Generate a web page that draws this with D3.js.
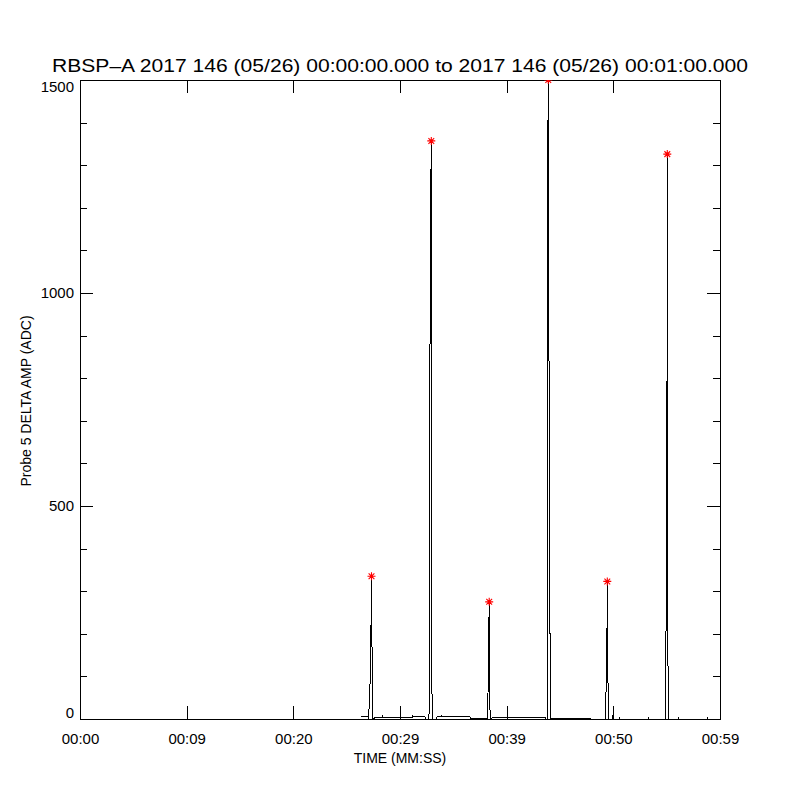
<!DOCTYPE html>
<html>
<head>
<meta charset="utf-8">
<script src="https://cdn.jsdelivr.net/npm/d3@7"></script>
<style>
  html, body { margin: 0; padding: 0; background: #fff; }
  svg { display: block; }
  text { font-family: "Liberation Sans", "DejaVu Sans", sans-serif; fill: #000; }
</style>
</head>
<body>
<svg id="chart" width="800" height="800"></svg>
<script>
// ---- data ----
const titleText = "RBSP\u2013A 2017 146 (05/26) 00:00:00.000 to 2017 146 (05/26) 00:01:00.000";
const xLabel = "TIME (MM:SS)";
const yLabel = "Probe 5 DELTA AMP (ADC)";

const xTickValues = [0, 10, 20, 30, 40, 50, 60];
const xTickLabels = ["00:00", "00:09", "00:20", "00:29", "00:39", "00:50", "00:59"];
const yMajorTicks = [0, 500, 1000, 1500];
const yMinorTicks = [100, 200, 300, 400, 600, 700, 800, 900, 1100, 1200, 1300, 1400];

// trace: seconds since 00:00:00, amplitude in ADC
const traceTime = [
  26.344, 27.028, 27.075, 27.113, 27.216, 27.281, 27.328, 27.366, 27.394, 27.413,
  27.497, 27.591, 27.656, 28.341, 28.378, 28.434, 30.000, 30.028, 30.066, 31.153,
  31.191, 31.247, 32.344, 32.438, 32.719, 32.766, 32.841, 32.934, 32.972, 33.000,
  33.038, 33.441, 33.469, 33.891, 33.909, 33.938, 35.625, 36.563, 36.609, 38.203,
  38.250, 38.297, 38.363, 38.400, 38.438, 38.484, 38.719, 43.594, 43.688, 43.809,
  43.838, 43.880, 43.950, 43.988, 44.063, 44.091, 44.691, 46.097, 46.125, 46.875,
  47.813, 47.859, 49.247, 49.266, 49.341, 49.406, 49.434, 49.463, 49.491, 49.556,
  49.594, 49.959, 49.997, 50.034, 50.531, 50.559, 50.588, 53.250, 53.278, 53.306,
  54.891, 54.909, 54.984, 55.031, 55.059, 55.088, 55.106, 55.134, 56.063, 56.091,
  56.119, 58.781, 58.809, 58.838, 59.813
];
const traceValue = [
  7, 7, 0, 47, 96, 214, 335, 214, 96, 0,
  2, 0, 4, 4, 7, 4, 4, 31, 4, 4,
  7, 5, 5, 0, 0, 443, 1122, 1357, 1122, 59,
  0, 0, 5, 5, 7, 5, 5, 5, 2, 2,
  60, 150, 275, 150, 20, 0, 4, 4, 0, 0,
  228, 1500, 1498, 200, 200, 0, 2, 2, 0, 2,
  2, 0, 0, 7, 95, 200, 323, 200, 95, 37,
  0, 0, 30, 0, 0, 2, 0, 0, 2, 0,
  0, 76, 400, 737, 1326, 737, 400, 0, 0, 2,
  0, 0, 2, 0, 0
];

// peak markers (red asterisks)
const peakTime = [27.328, 32.934, 38.363, 43.900, 49.434, 55.059];
const peakValue = [335, 1357, 275, 1500, 323, 1326];

// ---- layout ----
const svg = d3.select("#chart");
const plot = { left: 80, right: 720, top: 80, bottom: 719 };

const x = d3.scaleLinear().domain([0, 60]).range([plot.left, plot.right]);
const y = d3.scaleLinear().domain([0, 1500]).range([plot.bottom, plot.top]);

svg.append("defs").append("clipPath").attr("id", "clip")
  .append("rect")
  .attr("x", plot.left).attr("y", plot.top)
  .attr("width", plot.right - plot.left).attr("height", plot.bottom - plot.top);

// ---- axes ----
const axisStyle = g => {
  g.select(".domain").remove();
  g.selectAll("line").attr("stroke", "#000").attr("shape-rendering", "crispEdges");
  g.selectAll("text").style("font-size", "15px").attr("fill", "#000");
};

// bottom
svg.append("g").attr("transform", `translate(0,${plot.bottom})`)
  .call(d3.axisBottom(x).tickValues(xTickValues)
    .tickFormat((d, i) => xTickLabels[i]).tickSizeInner(-13).tickSizeOuter(0).tickPadding(14))
  .call(axisStyle);
// top
svg.append("g").attr("transform", `translate(0,${plot.top})`)
  .call(d3.axisTop(x).tickValues(xTickValues).tickFormat("").tickSizeInner(-13).tickSizeOuter(0))
  .call(axisStyle);

// left major
const leftMajor = svg.append("g").attr("transform", `translate(${plot.left},0)`)
  .call(d3.axisLeft(y).tickValues(yMajorTicks).tickFormat(d3.format("d"))
    .tickSizeInner(-13).tickSizeOuter(0).tickPadding(6))
  .call(axisStyle);
leftMajor.selectAll("text").attr("dy", d => d === 0 ? "-0.1em" : (d === 1500 ? "0.78em" : "0.32em"));
// left minor
svg.append("g").attr("transform", `translate(${plot.left},0)`)
  .call(d3.axisLeft(y).tickValues(yMinorTicks).tickFormat("").tickSizeInner(-7).tickSizeOuter(0))
  .call(axisStyle);
// right major
svg.append("g").attr("transform", `translate(${plot.right},0)`)
  .call(d3.axisRight(y).tickValues(yMajorTicks).tickFormat("").tickSizeInner(-13).tickSizeOuter(0))
  .call(axisStyle);
// right minor
svg.append("g").attr("transform", `translate(${plot.right},0)`)
  .call(d3.axisRight(y).tickValues(yMinorTicks).tickFormat("").tickSizeInner(-7).tickSizeOuter(0))
  .call(axisStyle);

// frame
svg.append("rect")
  .attr("x", x(0)).attr("y", y(1500))
  .attr("width", x(60) - x(0)).attr("height", y(0) - y(1500))
  .attr("fill", "none").attr("stroke", "#000").attr("stroke-width", 1)
  .attr("shape-rendering", "crispEdges");

// ---- trace ----
const traceData = traceTime.map((t, i) => [t, traceValue[i]]);
svg.append("path")
  .datum(traceData)
  .attr("clip-path", "url(#clip)")
  .attr("fill", "none")
  .attr("stroke", "#000")
  .attr("stroke-width", 1)
  .attr("shape-rendering", "crispEdges")
  .attr("d", d3.line().x(d => x(d[0])).y(d => y(d[1])));

// ---- peak asterisks ----
const r = 4;
const starPath = (cx, cy) => {
  const d = r * 0.72;
  return `M${cx - r},${cy}L${cx + r},${cy}M${cx},${cy - r}L${cx},${cy + r}` +
         `M${cx - d},${cy - d}L${cx + d},${cy + d}M${cx - d},${cy + d}L${cx + d},${cy - d}`;
};
svg.append("g").attr("clip-path", "url(#clip)")
  .selectAll("path.star")
  .data(peakTime.map((t, i) => [t, peakValue[i]]))
  .join("path")
  .attr("class", "star")
  .attr("d", d => starPath(x(d[0]), y(d[1])))
  .attr("stroke", "#ff0000")
  .attr("stroke-width", 1.1)
  .attr("fill", "none");

// ---- titles ----
svg.append("text")
  .attr("x", 400).attr("y", 72)
  .attr("text-anchor", "middle")
  .attr("textLength", 696).attr("lengthAdjust", "spacingAndGlyphs")
  .style("font-size", "18px")
  .text(titleText);

svg.append("text")
  .attr("x", 400).attr("y", 763)
  .attr("text-anchor", "middle")
  .style("font-size", "14px")
  .text(xLabel);

svg.append("text")
  .attr("transform", "translate(31,401) rotate(-90)")
  .attr("text-anchor", "middle")
  .style("font-size", "14px")
  .text(yLabel);
</script>
</body>
</html>
